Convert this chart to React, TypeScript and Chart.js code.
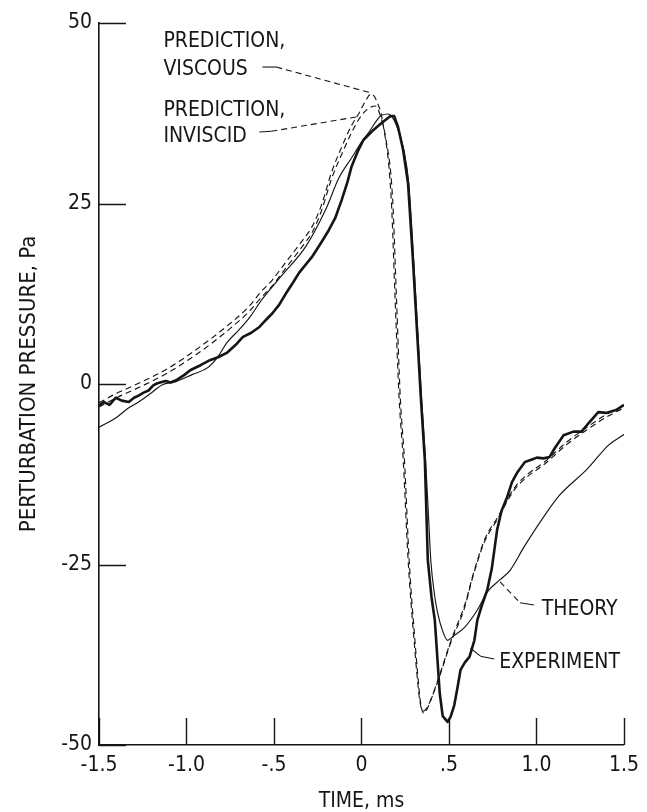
import React, { useEffect, useRef } from 'react';
import { Chart, registerables } from 'chart.js';

Chart.register(...registerables);

const INK = '#151515';
const FONT_FAMILY = "'Liberation Sans Narrow', 'DejaVu Sans Condensed', 'Arial Narrow', sans-serif";

// Axis ticks
const TIME_TICKS = [-1.5, -1.0, -0.5, 0, 0.5, 1.0, 1.5];
const TIME_TICK_LABELS = ['-1.5', '-1.0', '-.5', '0', '.5', '1.0', '1.5'];
const PRESSURE_TICKS = [-50, -25, 0, 25, 50];
const PRESSURE_TICK_LABELS = ['-50', '-25', '0', '25', '50'];

// Measured signature (time in ms, pressure in Pa)
const experimentTime = [
  -1.5, -1.472, -1.44, -1.404, -1.37, -1.33, -1.3, -1.274, -1.245, -1.217, -1.19, -1.166, -1.12, -1.09,
  -1.053, -1.01, -0.979, -0.92, -0.866, -0.82, -0.77, -0.72, -0.679, -0.63, -0.583, -0.545, -0.509, -0.47,
  -0.43, -0.39, -0.357, -0.32, -0.283, -0.23, -0.187, -0.15, -0.113, -0.08, -0.057, -0.02, 0.011, 0.06,
  0.113, 0.164, 0.187, 0.209, 0.238, 0.266, 0.294, 0.317, 0.34, 0.362, 0.379, 0.4, 0.419, 0.447, 0.464,
  0.492, 0.509, 0.53, 0.549, 0.566, 0.59, 0.617, 0.645, 0.662, 0.69, 0.719, 0.745, 0.775, 0.8, 0.832,
  0.86, 0.889, 0.934, 0.97, 1.002, 1.04, 1.075, 1.104, 1.155, 1.211, 1.257, 1.302, 1.353, 1.398, 1.455, 1.5,
];
const experimentPressure = [
  -3.0, -2.5, -2.9, -1.9, -2.3, -2.5, -1.9, -1.6, -1.2, -0.9, -0.2, 0.1, 0.4, 0.2,
  0.6, 1.3, 1.9, 2.6, 3.3, 3.7, 4.3, 5.4, 6.5, 7.1, 7.9, 8.9, 9.8, 11.0,
  12.6, 14.1, 15.4, 16.5, 17.6, 19.6, 21.3, 23.0, 25.5, 28.0, 30.1, 32.3, 33.8, 35.0,
  36.1, 37.1, 37.1, 35.6, 32.4, 27.8, 17.2, 7.5, -2.2, -10.5, -24.4, -29.5, -32.7, -42.8, -46.0,
  -46.8, -46.1, -44.5, -42.0, -39.6, -38.6, -37.8, -35.5, -32.7, -30.5, -28.5, -25.5, -20.2, -17.6, -15.7,
  -13.6, -12.3, -10.8, -10.5, -10.2, -10.3, -10.1, -8.9, -7.1, -6.6, -6.6, -5.3, -3.9, -4.0, -3.6, -2.9,
];

// Theoretical signature
const theoryTime = [
  -1.5, -1.404, -1.33, -1.274, -1.194, -1.138, -1.064, -0.968, -0.877, -0.82, -0.77, -0.7, -0.64, -0.566,
  -0.453, -0.317, -0.204, -0.13, -0.057, 0.0, 0.04, 0.113, 0.153, 0.2, 0.242, 0.27, 0.298, 0.321,
  0.344, 0.366, 0.384, 0.396, 0.419, 0.436, 0.465, 0.492, 0.521, 0.589, 0.662, 0.719, 0.792, 0.849,
  0.928, 1.041, 1.132, 1.285, 1.415, 1.5,
];
const theoryPressure = [
  -6.0, -4.7, -3.3, -2.5, -1.1, -0.1, 0.3, 1.3, 2.3, 3.8, 5.7, 7.5, 9.2, 11.8,
  15.1, 19.1, 24.2, 28.5, 31.3, 33.5, 34.8, 37.2, 37.4, 35.8, 32.4, 27.8, 17.2, 7.5,
  -2.2, -10.5, -18.8, -24.4, -29.5, -31.8, -34.3, -35.5, -35.0, -33.7, -31.3, -28.8, -27.1, -25.8,
  -22.6, -18.4, -15.4, -11.9, -8.4, -7.0,
];

// Predicted signature, viscous
const viscousTime = [
  -1.5, -1.4, -1.3, -1.11, -0.92, -0.77, -0.64, -0.58, -0.51, -0.45, -0.34, -0.28, -0.23, -0.17,
  -0.11, -0.057, -0.017, 0.023, 0.055, 0.09, 0.12, 0.17, 0.192, 0.215, 0.238, 0.266, 0.3, 0.334,
  0.352, 0.37, 0.436, 0.509, 0.589, 0.634, 0.702, 0.775, 0.872, 0.945, 1.041, 1.172, 1.285, 1.398, 1.5,
];
const viscousPressure = [
  -2.6, -1.3, -0.2, 2.1, 5.2, 8.0, 10.8, 12.6, 14.4, 16.3, 19.8, 21.9, 24.7, 29.4,
  33.0, 35.8, 37.4, 39.2, 40.2, 39.0, 36.4, 25.6, 11.8, -2.0, -10.3, -24.2, -35.4, -44.0,
  -45.3, -45.0, -41.2, -35.9, -31.0, -26.9, -21.9, -18.8, -14.7, -12.9, -11.2, -8.4, -6.4, -4.6, -3.3,
];

// Predicted signature, inviscid
const inviscidTime = [
  -1.5, -1.4, -1.3, -1.11, -0.92, -0.77, -0.64, -0.58, -0.51, -0.45, -0.34, -0.28, -0.23, -0.17,
  -0.11, -0.057, -0.017, 0.03, 0.08, 0.11, 0.135, 0.178, 0.2, 0.222, 0.245, 0.272, 0.305, 0.338,
  0.356, 0.375, 0.442, 0.515, 0.594, 0.64, 0.708, 0.78, 0.876, 0.95, 1.045, 1.175, 1.288, 1.4, 1.5,
];
const inviscidPressure = [
  -3.2, -1.9, -0.8, 1.5, 4.5, 7.3, 10.1, 11.8, 13.6, 15.5, 19.0, 21.1, 23.9, 28.5,
  32.0, 34.8, 36.6, 38.0, 38.5, 37.0, 34.5, 25.6, 11.8, -2.0, -10.3, -24.2, -35.4, -44.2,
  -45.6, -45.0, -40.6, -35.3, -30.3, -26.2, -21.3, -18.4, -14.3, -12.5, -10.8, -8.0, -6.0, -4.2, -3.0,
];

// Curve labels with their leader lines (time, pressure)
const CALLOUTS = [
  {
    lines: [
      { text: 'PREDICTION,', t: -1.132, p: 46.7 },
      { text: 'VISCOUS', t: -1.132, p: 42.8 },
    ],
    leader: [
      { from: [-0.566, 43.9], to: [-0.487, 43.9], dashed: false },
      { from: [-0.487, 43.9], to: [0.057, 40.3], dashed: true },
    ],
  },
  {
    lines: [
      { text: 'PREDICTION,', t: -1.132, p: 37.1 },
      { text: 'INVISCID', t: -1.132, p: 33.5 },
    ],
    leader: [
      { from: [-0.583, 34.9], to: [-0.515, 35.0], dashed: false },
      { from: [-0.515, 35.0], to: [-0.028, 37.0], dashed: true },
    ],
  },
  {
    lines: [{ text: 'THEORY', t: 1.03, p: -32.0 }],
    leader: [
      { from: [0.792, -27.4], to: [0.906, -30.3], dashed: true },
      { from: [0.906, -30.3], to: [0.985, -30.6], dashed: false },
    ],
  },
  {
    lines: [{ text: 'EXPERIMENT', t: 0.787, p: -39.3 }],
    leader: [
      { from: [0.623, -36.6], to: [0.68, -37.7], dashed: false },
      { from: [0.68, -37.7], to: [0.758, -38.1], dashed: false },
    ],
  },
];

const toPoints = (t: number[], p: number[]) => t.map((v, i) => ({ x: v, y: p[i] }));

const paperPlugin = {
  id: 'paperMarks',
  afterDraw(chart: any) {
    const { ctx } = chart;
    const xs = chart.scales.x;
    const ys = chart.scales.y;
    const px = (t: number) => xs.getPixelForValue(t);
    const py = (p: number) => ys.getPixelForValue(p);
    ctx.save();
    ctx.strokeStyle = INK;
    ctx.fillStyle = INK;
    ctx.lineWidth = 1.4;

    // inward tick marks
    ctx.beginPath();
    for (const v of PRESSURE_TICKS) {
      const y = Math.round(py(v)) + 0.5;
      ctx.moveTo(xs.left, y);
      ctx.lineTo(xs.left + 27, y);
    }
    for (const v of TIME_TICKS) {
      const x = Math.round(px(v)) + 0.5;
      ctx.moveTo(x, ys.bottom);
      ctx.lineTo(x, ys.bottom - 27);
    }
    ctx.stroke();

    // labels and leaders
    ctx.font = `21px ${FONT_FAMILY}`;
    ctx.textAlign = 'left';
    ctx.textBaseline = 'alphabetic';
    ctx.lineWidth = 1.1;
    for (const c of CALLOUTS) {
      for (const l of c.lines) ctx.fillText(l.text, px(l.t), py(l.p));
      for (const s of c.leader) {
        ctx.setLineDash(s.dashed ? [6, 4] : []);
        ctx.beginPath();
        ctx.moveTo(px(s.from[0]), py(s.from[1]));
        ctx.lineTo(px(s.to[0]), py(s.to[1]));
        ctx.stroke();
      }
    }
    ctx.restore();
  },
};

export default function App() {
  const canvasRef = useRef<HTMLCanvasElement | null>(null);

  useEffect(() => {
    const canvas = canvasRef.current;
    if (!canvas) return;
    const thin = { borderColor: INK, borderWidth: 1.15, pointRadius: 0, showLine: true, fill: false };
    const chart = new Chart(canvas, {
      type: 'scatter',
      data: {
        datasets: [
          { label: 'Prediction, viscous', data: toPoints(viscousTime, viscousPressure), ...thin, borderDash: [6, 4], cubicInterpolationMode: 'monotone' },
          { label: 'Prediction, inviscid', data: toPoints(inviscidTime, inviscidPressure), ...thin, borderDash: [6, 4], cubicInterpolationMode: 'monotone' },
          { label: 'Theory', data: toPoints(theoryTime, theoryPressure), ...thin, cubicInterpolationMode: 'monotone' },
          { label: 'Experiment', data: toPoints(experimentTime, experimentPressure), borderColor: INK, borderWidth: 2.6, pointRadius: 0, showLine: true, fill: false, tension: 0, borderJoinStyle: 'round' },
        ],
      } as any,
      options: {
        responsive: false,
        animation: false,
        devicePixelRatio: 1,
        layout: { padding: { top: 23, right: 19, bottom: 0, left: 0 } },
        plugins: { legend: { display: false }, tooltip: { enabled: false } },
        events: [],
        scales: {
          x: {
            type: 'linear',
            min: -1.5,
            max: 1.5,
            afterBuildTicks: (s: any) => { s.ticks = TIME_TICKS.map((v) => ({ value: v })); },
            afterFit: (s: any) => { s.height = 67; },
            grid: { display: false, drawTicks: false },
            border: { display: true, color: INK, width: 1.6 },
            ticks: {
              color: INK,
              padding: 8,
              maxRotation: 0,
              autoSkip: false,
              font: { family: FONT_FAMILY, size: 21 },
              callback: (v: any) => TIME_TICK_LABELS[TIME_TICKS.indexOf(Number(v))],
            },
            title: {
              display: true,
              text: 'TIME, ms',
              color: INK,
              font: { family: FONT_FAMILY, size: 21, lineHeight: 1 },
              padding: { top: 0, bottom: 0 },
            },
          },
          y: {
            type: 'linear',
            min: -50,
            max: 50,
            afterBuildTicks: (s: any) => { s.ticks = PRESSURE_TICKS.map((v) => ({ value: v })); },
            afterFit: (s: any) => { s.width = 99; },
            grid: { display: false, drawTicks: false },
            border: { display: true, color: INK, width: 1.6 },
            ticks: {
              color: INK,
              padding: 7,
              autoSkip: false,
              font: { family: FONT_FAMILY, size: 21 },
              callback: (v: any) => PRESSURE_TICK_LABELS[PRESSURE_TICKS.indexOf(Number(v))],
            },
            title: {
              display: true,
              text: 'PERTURBATION PRESSURE, Pa',
              color: INK,
              font: { family: FONT_FAMILY, size: 22, lineHeight: 1 },
              padding: { top: 18, bottom: 0 },
            },
          },
        },
      } as any,
      plugins: [paperPlugin],
    });
    return () => chart.destroy();
  }, []);

  return (
    <div style={{ position: 'absolute', left: 0, top: 0, width: 647, height: 812, background: '#fff' }}>
      <canvas ref={canvasRef} width={647} height={812} style={{ width: 647, height: 812, display: 'block' }} />
    </div>
  );
}
